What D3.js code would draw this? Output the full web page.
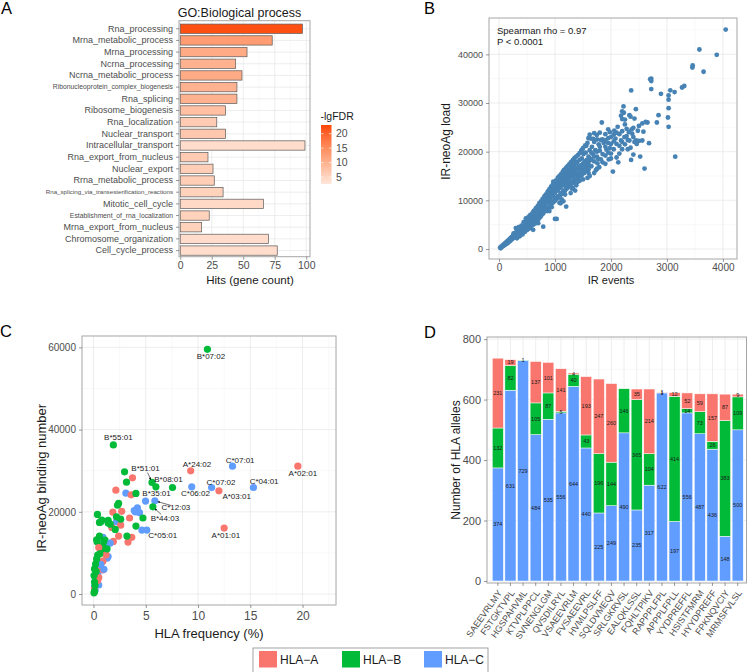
<!DOCTYPE html>
<html>
<head>
<meta charset="utf-8">
<script src="https://cdn.jsdelivr.net/npm/d3@7/dist/d3.min.js"></script>
<style>
  body { margin: 0; background: #fff; }
  svg { display: block; font-family: "Liberation Sans", Arial, Helvetica, sans-serif; }
</style>
</head>
<body>
<svg id="chart" width="748" height="672"></svg>
<script>
// ---- panel A: GO terms ----
const goTerms = ["Rna_processing", "Mrna_metabolic_process", "Mrna_processing", "Ncrna_processing",
  "Ncrna_metabolic_process", "Ribonucleoprotein_complex_biogenesis", "Rna_splicing", "Ribosome_biogenesis",
  "Rna_localization", "Nuclear_transport", "Intracellular_transport", "Rna_export_from_nucleus",
  "Nuclear_export", "Rrna_metabolic_process", "Rna_splicing_via_transesterification_reactions",
  "Mitotic_cell_cycle", "Establishment_of_rna_localization", "Mrna_export_from_nucleus",
  "Chromosome_organization", "Cell_cycle_process"];
const goHits = [97, 73, 53, 44, 49, 45, 45, 36, 29, 36, 99, 22, 26, 27, 34, 66, 23, 17, 70, 77];
const goLgFdr = [22, 13, 11, 10, 11, 10, 10, 8, 6.5, 7, 4, 6.5, 6, 6, 5.5, 4.5, 5.5, 5.5, 4, 4];
const fdrTicks = [5, 10, 15, 20];

// ---- panel B: IR events vs IR-neoAg load ----
const irScatter = [
  [20,300],[30,150],[40,500],[50,400],[60,700],[70,600],[80,900],[90,700],[100,1100],[110,900],
  [120,1300],[130,1000],[140,1500],[150,1200],[160,1700],[170,1400],[180,1900],[190,1600],[200,2100],[200,1700],
  [210,2300],[220,1900],[230,2500],[240,2100],[250,2700],[260,2300],[270,2900],[280,2500],[290,3100],[300,2600],
  [310,3300],[320,2900],[330,3500],[340,3000],[350,3800],[360,3300],[370,3900],[380,3400],[390,4200],[400,3600],
  [260,3200],[330,2700],[380,4300],[300,3400],[350,2900],
  [410,4500],[420,3800],[430,4700],[440,4100],[450,5000],[460,4300],[470,5200],[480,4600],[490,5500],[500,4800],
  [510,5700],[520,5000],[530,6000],[540,5300],[550,6200],[560,5400],[570,6500],[580,5700],[590,6700],[600,6000],
  [450,3900],[500,5600],[550,4900],[600,6900],[480,5900],[520,4300],[580,6300],[610,3930],[560,4500],[540,6700],
  [620,6600],[630,7200],[640,6300],[650,7500],[660,6800],[670,7800],[680,7000],[690,8000],[700,7300],[710,8300],
  [720,7500],[730,8600],[740,7800],[750,8900],[760,8100],[770,9200],[780,8300],[790,9500],[800,8600],[620,7800],
  [650,5800],[700,8700],[700,6200],[750,7000],[760,9700],[800,9900],[790,4590],[680,5400],[740,6600],[720,9000],
  [660,8400],[780,7400],
  [810,9000],[820,10100],[830,9300],[840,10400],[850,9600],[860,10700],[870,9900],[880,11000],[890,10200],[900,11300],
  [910,10500],[920,11600],[930,10700],[940,11900],[950,11000],[960,12200],[970,11300],[980,12500],[990,11600],[1000,12800],
  [850,8400],[900,9300],[880,11800],[920,12300],[950,9800],[970,13850],[1000,10500],[860,7800],[940,8600],[990,13300],
  [830,11000],[1000,6170],[1030,6170],
  [1010,11900],[1020,13000],[1030,12100],[1040,13300],[1050,12400],[1060,13600],[1070,12600],[1080,13900],[1090,12900],[1100,14100],
  [1110,13100],[1120,14400],[1130,13400],[1140,14700],[1150,13600],[1160,15000],[1170,13900],[1180,15200],[1190,14100],[1200,15500],
  [1050,10800],[1100,11500],[1150,12000],[1200,12800],[1080,9500],[1120,10200],[1200,8710],[1160,16200],[1060,14700],[1180,11200],
  [1210,14300],[1220,15700],[1230,14600],[1240,16000],[1250,14900],[1260,16200],[1270,15100],[1280,16500],[1290,15400],[1300,16800],
  [1310,15600],[1320,17000],[1330,15900],[1340,17300],[1350,16100],[1360,17970],[1370,16400],[1380,17600],[1390,16600],[1400,17900],
  [1250,13300],[1300,13800],[1350,14300],[1400,15000],[1280,11500],[1320,12500],[1380,13100],[1360,12000],
  [1420,16900],[1440,18300],[1460,17200],[1480,18600],[1500,17500],[1510,19500],[1530,18000],[1550,19800],[1570,18300],[1598,22770],
  [1600,19000],[1620,20300],[1640,18500],[1660,21000],[1680,19500],[1700,22000],[1450,15500],[1500,16200],[1550,16800],[1600,17200],
  [1650,17000],[1700,18000],[1480,20300],[1560,21200],[1640,22700],[1680,22600],[1620,15000],[1700,15600],[1580,14600],[1440,14000],
  [1747,23440],[1720,20300],[1750,19000],[1780,21500],[1800,20200],[1820,22400],[1837,25990],[1850,19500],[1870,21800],[1900,23600],
  [1920,20400],[1950,22800],[1980,24000],[2000,21600],[2035,15910],[2050,23500],[2080,22700],[2100,18800],[2100,23900],[2150,21200],
  [2180,22300],[2200,24200],[1760,17600],[1820,18400],[1900,19200],[1960,18400],[2000,19600],[1730,16200],[1790,16800],[2050,20500],
  [2130,17800],[2200,20500],[1950,24600],
  [2224,29290],[2200,28300],[2230,28000],[2250,25600],[2280,24700],[2300,22400],[2330,27500],[2350,27200],[2361,32580],[2360,18310],
  [2380,23700],[2400,24900],[2420,22000],[2445,28740],[2460,21600],[2500,25300],[2522,19000],[2560,22300],[2580,24100],[2600,16530],
  [2250,26600],[2300,20500],[2400,19400],[2480,24300],[2330,22300],
  [2653,25990],[2680,21740],[2701,34900],[2720,34500],[2720,35000],[2720,32860],[2820,25990],[2850,27500],[2893,31890],[3018,27020],
  [3030,25100],[3029,31560],[3029,30680],[3030,28940],[3060,32600],[3137,32250],[3148,18980],[3270,33190],[3310,33500],[3455,37300],
  [3460,37720],[3580,41000],[3655,36420],[3890,39900],[4050,45100],[2560,25800],[2620,26100],
  // upper and lower edges of the dense band
  [300,4300],[320,2200],[350,4500],[370,2600],[400,4800],[420,3000],[440,5500],[460,3500],[480,6300],[500,3900],
  [520,6500],[540,4200],[560,7000],[580,4800],[600,7400],[610,5000],[630,7900],[640,5200],[660,8300],[670,5800],
  [690,8800],[700,6000],[720,9400],[730,6500],[750,9800],[760,7000],[780,10300],[790,7300],[810,10800],[820,7800],
  [840,11200],[850,8000],[870,11800],[880,8500],[900,12300],[910,8800],[930,12800],[940,9300],[960,13200],[970,9600],
  [990,13700],[1000,9900],[1020,14100],[1030,10300],[1050,14600],[1060,10600],[1080,15000],[1090,11000],[1110,15400],[1120,11300],
  [1140,15900],[1150,11600],[1170,16300],[1180,12000],[1200,16700],[1210,12400],[1230,17100],[1240,12800],[1260,17500],[1270,13100],
  [1290,17900],[1300,13400],[1320,18300],[1330,13700],[1350,18700],[1360,14000],[1380,19000],[1390,14300],[1410,19300],[1420,14700],
  [1440,19700],[1450,15000],[1470,20200],[1480,15200],[1500,20700],[1520,15600],[1540,21300],[1560,16000],[1580,21800],[1600,16400],
  [550,5800],[600,6500],[650,7000],[700,7700],[750,8300],[800,9200],[850,9900],[900,10400],[950,10900],[1000,11500],
  [1050,12000],[1100,12600],[1150,13100],[1200,13600],[1250,14100],[1300,14700],[1350,15200],[1400,15700],[1450,16300],[1500,16900],
  [1550,17300],[1600,17800],[1650,18300],[1700,19000],[1750,20000],[1800,21000],[1850,22500],[1900,21000],[1950,21800],[2000,23000],
  [1620,23500],[1700,23800],[1750,22500],[1800,23900],[1850,17800],[1900,17500],[2000,18600],[2060,24300],[2120,25100],[2150,19600],
  [2250,21500],[2280,23200],[2320,24000],[2350,20800],[2200,22000],[2100,21600],[2050,22100],[1980,20700],[1900,22300],[1650,19800],
  [1770,18500],[1950,19800],[2150,23600],[2240,23000],[2400,23000],[2450,22300],[2420,26800],[2500,22200],[2370,24600],[2200,26700],
  [2180,27400],[700,5300],[900,7800],[1100,9400],[1300,12400],[1400,13700],[1150,9800],[1500,14300],[1600,15600],[1750,16500]
];

// ---- panel C: HLA frequency vs binding number ----
const hlaAFreq = [3.73, 2.14, 3.6, 1.85, 2.7, 3.45, 1.75, 2.6, 2.4, 3.66, 3.3, 1.9, 0.9, 0.9, 0.6, 0.5, 0.9, 0.3, 0.2, 0.1, 1.2, 0.5, 0.4];
const hlaABind = [28270, 25270, 24140, 19930, 20130, 18500, 16200, 16760, 14100, 13800, 12640, 12800, 10800, 8000, 6200, 4000, 5900, 7000, 2500, 1200, 9500, 11300, 3300];
const hlaBFreq = [2.97, 3.16, 7.56, 2.4, 2.3, 0.38, 0.57, 0.7, 1.4, 1.4, 2.2, 4.73, 4.06, 2.08, 0.35, 0.57, 3.2, 1.1, 0.9, 0.85, 0.4, 0.3, 0.2, 0.1, 0.05, 0.1, 0.15, 0.1, 1.0, 1.3, 0.6, 0.25, 0.05, 0.3, 2.6, 1.6, 0.8];
const hlaBBind = [29720, 27220, 25920, 22040, 21600, 19370, 17420, 17600, 17900, 17300, 18790, 18500, 16520, 15720, 12720, 14100, 14100, 13100, 11700, 10800, 9480, 8500, 7300, 6100, 4500, 2900, 2100, 640, 12900, 11000, 9800, 5500, 300, 13200, 18200, 17000, 18000];
const hlaCFreq = [3.1, 4.98, 4.2, 3.9, 4.0, 4.4, 2.2, 1.1, 0.9, 1.15, 1.3, 0.85, 0.4, 0.2, 0.1, 0.15, 1.4, 0.7, 1.0, 4.63, 1.6, 0.5];
const hlaCBind = [24540, 22600, 20970, 20300, 20000, 19800, 17600, 11900, 13800, 10000, 8700, 5900, 4800, 3000, 1800, 900, 9100, 7200, 6000, 15550, 12400, 2200];
const namedAlleles = ["B*07:02", "B*55:01", "C*07:01", "A*02:01", "A*24:02", "B*51:01", "B*08:01", "C*06:02",
  "C*07:02", "A*03:01", "C*04:01", "B*35:01", "C*12:03", "B*44:03", "C*05:01", "A*01:01"];
const namedFreq = [10.9, 1.9, 13.3, 19.55, 9.3, 5.6, 5.97, 9.4, 11.3, 12.0, 15.3, 4.06, 5.87, 5.68, 5.1, 12.5];
const namedBind = [59540, 36280, 31100, 31100, 29970, 27140, 26080, 26080, 25920, 25100, 25920, 24470, 22670, 21220, 15550, 16040];

// ---- panel D: peptides by HLA gene ----
const peptides = ["SAEEVRLMY", "FSTGKTVPL", "HGSPAHVML", "KTVPLPPCL", "SVNENGLGM", "QVSDILRYL", "VSAEEVRLM",
  "FVSAEEVRL", "HVMLPSLFF", "SQLDVMEQV", "SRLGKRVSL", "EALQKLSSL", "FQHLTPIKV", "RAPPPLFPL", "APPPLFPLL",
  "YYDPREFFL", "HSISTFMRM", "HYYDPREFF", "FPKNQVCIY", "MRMSFVLSL"];
const pepHlaC = [374, 631, 729, 484, 535, 556, 644, 440, 225, 249, 490, 235, 317, 622, 197, 556, 487, 436, 148, 500];
const pepHlaB = [132, 82, 1, 105, 87, 5, 40, 43, 196, 144, 146, 365, 104, 1, 414, 14, 73, 26, 383, 109];
const pepHlaA = [231, 19, 0, 137, 101, 141, 4, 193, 247, 260, 0, 35, 214, 1, 12, 52, 59, 157, 87, 9];

const genes = ["HLA-A", "HLA-B", "HLA-C"];
const geneColor = d3.scaleOrdinal().domain(genes).range(["#F8766D", "#00BA38", "#619CFF"]);

const svg = d3.select("#chart");
const txt = "#4d4d4d";
const plain = d3.format("d");

function drawGrid(box, xMaj, xMin, yMaj, yMin) {
  const g = svg.append("g");
  const v = (vals, col, w) => g.append("g").selectAll("line").data(vals).join("line")
    .attr("x1", d => d).attr("x2", d => d).attr("y1", box.t).attr("y2", box.b)
    .attr("stroke", col).attr("stroke-width", w);
  const h = (vals, col, w) => g.append("g").selectAll("line").data(vals).join("line")
    .attr("y1", d => d).attr("y2", d => d).attr("x1", box.l).attr("x2", box.r)
    .attr("stroke", col).attr("stroke-width", w);
  v(xMin, "#f3f3f3", 0.5);
  h(yMin, "#f3f3f3", 0.5);
  v(xMaj, "#e8e8e8", 0.8);
  h(yMaj, "#e8e8e8", 0.8);
}

function drawBorder(box) {
  svg.append("rect").attr("x", box.l).attr("y", box.t)
    .attr("width", box.r - box.l).attr("height", box.b - box.t)
    .attr("fill", "none").attr("stroke", "#a6a6a6").attr("stroke-width", 1);
}

function styleAxis(a, size) {
  a.attr("font-family", null);
  a.select(".domain").remove();
  a.selectAll(".tick line").attr("stroke", "#555").attr("stroke-width", 0.6);
  a.selectAll(".tick text").attr("fill", txt).attr("font-size", size);
}

function label(x, y, s, size, opts = {}) {
  const t = svg.append("text").attr("x", x).attr("y", y).text(s)
    .attr("font-size", size).attr("fill", opts.fill || "#1a1a1a")
    .attr("text-anchor", opts.anchor || "start");
  if (opts.rotate) t.attr("transform", `rotate(-90,${x},${y})`);
  return t;
}

// ================= A =================
const boxA = { l: 179, r: 310, t: 20.7, b: 256.7 };
const xA = d3.scaleLinear().domain([-1, 103]).range([boxA.l, boxA.r]);
const yA = d3.scaleBand().domain(goTerms).range([22.9, 256.4]).paddingInner(0.2).paddingOuter(0.1);
const fdrColor = d3.scaleLinear().domain([2.6, 23]).range(["#ffe6da", "#ff4500"]).interpolate(d3.interpolateLab);

drawGrid(boxA, [0, 25, 50, 75, 100].map(xA), [12.5, 37.5, 62.5, 87.5].map(xA),
  goTerms.map(t => yA(t) + yA.bandwidth() / 2), []);

svg.append("g").selectAll("rect").data(goTerms).join("rect")
  .attr("x", xA(0)).attr("y", d => yA(d))
  .attr("width", (d, i) => xA(goHits[i]) - xA(0)).attr("height", yA.bandwidth())
  .attr("fill", (d, i) => fdrColor(goLgFdr[i]))
  .attr("stroke", "#5a5a5a").attr("stroke-width", 0.7);
drawBorder(boxA);

const axA = svg.append("g").attr("transform", `translate(0,${boxA.b})`)
  .call(d3.axisBottom(xA).tickValues([0, 25, 50, 75, 100]).tickSize(3).tickPadding(2));
styleAxis(axA, 10.5);
const ayA = svg.append("g").attr("transform", `translate(${boxA.l},0)`)
  .call(d3.axisLeft(yA).tickSize(3).tickPadding(3));
styleAxis(ayA, 9);
ayA.selectAll(".tick text").attr("font-size", d => d.length > 40 ? 6.2 : d.length > 30 ? 6.8 : 9);

label(239.5, 16.5, "GO:Biological process", 12.5, { anchor: "middle" });
label(250, 284, "Hits (gene count)", 11.5, { anchor: "middle" });

// colour bar legend
const legY = d3.scaleLinear().domain([2.6, 23]).range([184, 125]);
const grad = svg.append("defs").append("linearGradient").attr("id", "fdrGrad")
  .attr("x1", 0).attr("y1", 1).attr("x2", 0).attr("y2", 0);
d3.range(0, 1.01, 0.1).forEach(t => {
  grad.append("stop").attr("offset", t).attr("stop-color", fdrColor(2.6 + t * (23 - 2.6)));
});
svg.append("rect").attr("x", 321).attr("y", legY(23)).attr("width", 10.5)
  .attr("height", legY(2.6) - legY(23)).attr("fill", "url(#fdrGrad)");
svg.append("g").selectAll("line").data(fdrTicks).join("line")
  .attr("x1", 321).attr("x2", 323.5).attr("y1", d => legY(d)).attr("y2", d => legY(d))
  .attr("stroke", "#fff").attr("stroke-width", 0.7);
svg.append("g").selectAll("line").data(fdrTicks).join("line")
  .attr("x1", 329).attr("x2", 331.5).attr("y1", d => legY(d)).attr("y2", d => legY(d))
  .attr("stroke", "#fff").attr("stroke-width", 0.7);
svg.append("g").selectAll("text").data(fdrTicks).join("text")
  .attr("x", 336).attr("y", d => legY(d)).attr("dy", "0.35em")
  .attr("font-size", 10.5).attr("fill", txt).text(d => d);
label(320.5, 120, "-lgFDR", 10.5);

// ================= B =================
const boxB = { l: 489, r: 737, t: 18, b: 259 };
const xB = d3.scaleLinear().domain([-179, 4252]).range([boxB.l, boxB.r]);
const yB = d3.scaleLinear().domain([-2058, 47470]).range([boxB.b, boxB.t]);
drawGrid(boxB, [0, 1000, 2000, 3000, 4000].map(xB), [500, 1500, 2500, 3500].map(xB),
  [0, 10000, 20000, 30000, 40000].map(yB), [5000, 15000, 25000, 35000, 45000].map(yB));
svg.append("g").selectAll("circle").data(irScatter).join("circle")
  .attr("cx", d => xB(d[0])).attr("cy", d => yB(d[1])).attr("r", 2.4)
  .attr("fill", "#4682B4");
drawBorder(boxB);
const axB = svg.append("g").attr("transform", `translate(0,${boxB.b})`)
  .call(d3.axisBottom(xB).tickValues([0, 1000, 2000, 3000, 4000]).tickFormat(plain).tickSize(3).tickPadding(2));
styleAxis(axB, 10);
const ayB = svg.append("g").attr("transform", `translate(${boxB.l},0)`)
  .call(d3.axisLeft(yB).tickValues([0, 10000, 20000, 30000, 40000]).tickFormat(plain).tickSize(3).tickPadding(3));
styleAxis(ayB, 9);
label(497, 33.5, "Spearman rho = 0.97", 9.5);
label(497, 45, "P < 0.0001", 9.5);
label(611, 284, "IR events", 11, { anchor: "middle" });
label(450, 141.5, "IR-neoAg load", 12, { anchor: "middle", rotate: true });

// ================= C =================
const boxC = { l: 82, r: 336, t: 336, b: 605 };
const xC = d3.scaleLinear().domain([-1.1, 23.2]).range([boxC.l, boxC.r]);
const yC = d3.scaleLinear().domain([-2670, 62770]).range([boxC.b, boxC.t]);
drawGrid(boxC, [0, 5, 10, 15, 20].map(xC), [2.5, 7.5, 12.5, 17.5, 22.5].map(xC),
  [0, 20000, 40000, 60000].map(yC), [10000, 30000, 50000].map(yC));

const hlaPoints = [];
const maxLen = Math.max(hlaAFreq.length, hlaBFreq.length, hlaCFreq.length);
for (let i = 0; i < maxLen; i++) {
  if (i < hlaAFreq.length) hlaPoints.push({ f: hlaAFreq[i], n: hlaABind[i], g: "HLA-A" });
  if (i < hlaBFreq.length) hlaPoints.push({ f: hlaBFreq[i], n: hlaBBind[i], g: "HLA-B" });
  if (i < hlaCFreq.length) hlaPoints.push({ f: hlaCFreq[i], n: hlaCBind[i], g: "HLA-C" });
}
const named = namedAlleles.map((a, i) => ({ f: namedFreq[i], n: namedBind[i], g: "HLA-" + a[0], name: a }));
svg.append("g").selectAll("circle").data(hlaPoints.concat(named)).join("circle")
  .attr("cx", d => xC(d.f)).attr("cy", d => yC(d.n)).attr("r", 3.6)
  .attr("fill", d => geneColor(d.g));

// label offsets (pixels) from each point, repel-style
const labelOffset = {
  "B*07:02": [3.5, 7], "B*55:01": [5, -7.5], "C*07:01": [7.6, -6], "A*02:01": [5, 7.5],
  "A*24:02": [6.3, -6.4], "B*51:01": [-6.5, -14.5, true], "B*08:01": [12.6, -8], "C*06:02": [3.7, 6.6],
  "C*07:02": [9.4, -5.3], "A*03:01": [17.7, 5.6], "C*04:01": [10.7, -6.4], "B*35:01": [20.6, 0],
  "C*12:03": [21, 6, true], "B*44:03": [12, 11, true], "C*05:01": [16, 5.5], "A*01:01": [1.7, 7]
};
svg.append("defs").append("marker").attr("id", "arr").attr("viewBox", "0 0 10 10")
  .attr("refX", 9).attr("refY", 5).attr("markerWidth", 4).attr("markerHeight", 4)
  .attr("orient", "auto").append("path").attr("d", "M0,0 L10,5 L0,10 z").attr("fill", "#111");
named.forEach(d => {
  const [dx, dy, arrow] = labelOffset[d.name];
  const px = xC(d.f), py = yC(d.n);
  if (arrow) {
    const len = Math.hypot(dx, dy);
    svg.append("line")
      .attr("x1", px + dx * (1 - 5 / len)).attr("y1", py + dy * (1 - 5 / len))
      .attr("x2", px + dx * 3 / len).attr("y2", py + dy * 3 / len)
      .attr("stroke", "#111").attr("stroke-width", 0.6).attr("marker-end", "url(#arr)");
  }
  svg.append("text").attr("x", px + dx).attr("y", py + dy).attr("dy", "0.35em")
    .attr("text-anchor", "middle").attr("font-size", 8).attr("fill", "#1a1a1a").text(d.name);
});
drawBorder(boxC);
const axC = svg.append("g").attr("transform", `translate(0,${boxC.b})`)
  .call(d3.axisBottom(xC).tickValues([0, 5, 10, 15, 20]).tickSize(3).tickPadding(3));
styleAxis(axC, 12);
const ayC = svg.append("g").attr("transform", `translate(${boxC.l},0)`)
  .call(d3.axisLeft(yC).tickValues([0, 20000, 40000, 60000]).tickFormat(plain).tickSize(3).tickPadding(3));
styleAxis(ayC, 10);
label(209, 638, "HLA frequency (%)", 13, { anchor: "middle" });
label(46, 478, "IR-neoAg binding number", 13, { anchor: "middle", rotate: true });

// ================= D =================
const boxD = { l: 487, r: 746.5, t: 337, b: 583 };
const xD = d3.scaleBand().domain(peptides).range([491.5, 744]).paddingInner(0.12).paddingOuter(0.06);
const yD = d3.scaleLinear().domain([-6.6, 807]).range([boxD.b, boxD.t]);
drawGrid(boxD, peptides.map(p => xD(p) + xD.bandwidth() / 2), [],
  [0, 200, 400, 600, 800].map(yD), [100, 300, 500, 700].map(yD));

const stackRows = peptides.map((p, i) => ({ pep: p, "HLA-C": pepHlaC[i], "HLA-B": pepHlaB[i], "HLA-A": pepHlaA[i] }));
const stacked = d3.stack().keys(["HLA-C", "HLA-B", "HLA-A"])(stackRows);
const segG = svg.append("g");
stacked.forEach(layer => {
  segG.append("g").selectAll("rect").data(layer.filter(s => s[1] > s[0])).join("rect")
    .attr("x", s => xD(s.data.pep)).attr("width", xD.bandwidth())
    .attr("y", s => yD(s[1])).attr("height", s => yD(s[0]) - yD(s[1]))
    .attr("fill", geneColor(layer.key)).attr("stroke", "#fff").attr("stroke-width", 0.5);
});
stacked.forEach(layer => {
  segG.append("g").selectAll("text").data(layer.filter(s => s[1] > s[0])).join("text")
    .attr("x", s => xD(s.data.pep) + xD.bandwidth() / 2)
    .attr("y", s => yD((s[0] + s[1]) / 2)).attr("dy", "0.35em")
    .attr("text-anchor", "middle").attr("font-size", 5.5).attr("fill", "#1a1a1a")
    .text(s => s[1] - s[0]);
});
drawBorder(boxD);
const axD = svg.append("g").attr("transform", `translate(0,${boxD.b})`)
  .call(d3.axisBottom(xD).tickSize(3));
styleAxis(axD, 9);
axD.selectAll(".tick text").attr("x", 0).attr("y", 0).attr("dy", "0.35em")
  .attr("text-anchor", "end").attr("transform", "translate(2,8) rotate(-55)");
const ayD = svg.append("g").attr("transform", `translate(${boxD.l},0)`)
  .call(d3.axisLeft(yD).tickValues([0, 200, 400, 600, 800]).tickSize(3).tickPadding(3));
styleAxis(ayD, 11);
label(460, 460, "Number of HLA alleles", 12, { anchor: "middle", rotate: true });

// ================= shared legend =================
svg.append("rect").attr("x", 253).attr("y", 648).attr("width", 235).attr("height", 30)
  .attr("fill", "#fff").attr("stroke", "#8c8c8c").attr("stroke-width", 0.8);
const legX = [259, 342, 424];
genes.forEach((gname, i) => {
  svg.append("rect").attr("x", legX[i]).attr("y", 651).attr("width", 18).attr("height", 16.5)
    .attr("fill", geneColor(gname));
  label(legX[i] + 21, 664, gname.replace("-", "\u2212"), 12);
});

// panel letters
label(1, 14, "A", 16.5, { fill: "#000" });
label(424, 14, "B", 16.5, { fill: "#000" });
label(0, 337, "C", 16.5, { fill: "#000" });
label(424, 337.5, "D", 16.5, { fill: "#000" });
</script>
</body>
</html>
